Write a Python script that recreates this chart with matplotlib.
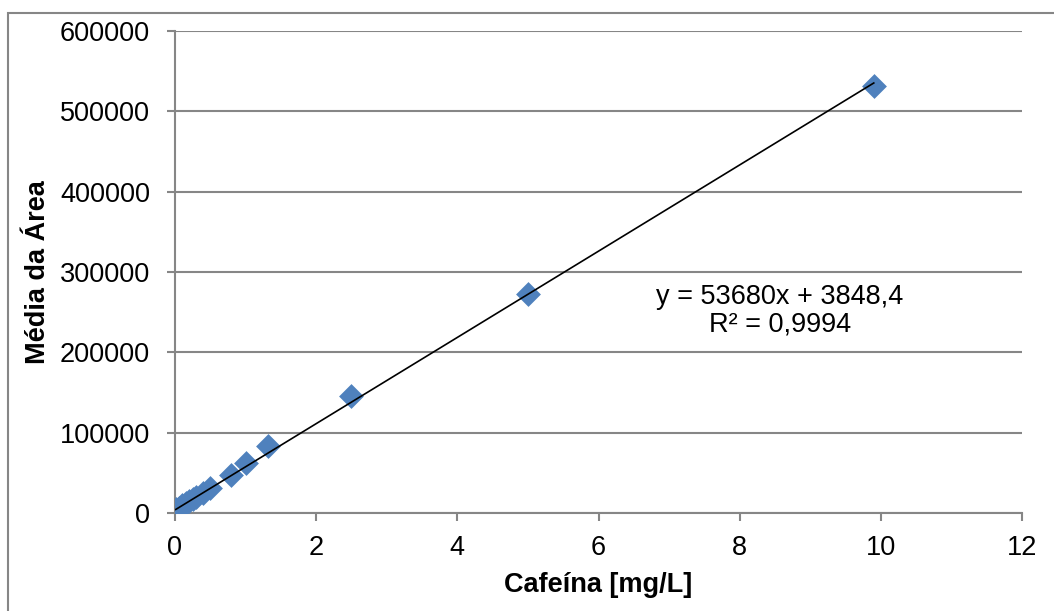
import numpy as np
import matplotlib.pyplot as plt
from matplotlib.patches import Rectangle

plt.rcParams['font.family'] = ['Liberation Sans', 'DejaVu Sans']

# calibration data
conc = [0.01, 0.05, 0.10, 0.15, 0.20, 0.25, 0.30, 0.40, 0.50, 0.80, 1.00, 1.32, 2.50, 5.00, 9.90]
area = [4500, 6500, 9500, 12000, 14500, 17500, 20000, 25500, 30500, 47500, 62000, 83500, 146000, 272000, 532000]

slope = 53680
intercept = 3848.4
eq_text = "y = 53680x + 3848,4\nR² = 0,9994"

xticks = [0, 2, 4, 6, 8, 10, 12]
yticks = [0, 100000, 200000, 300000, 400000, 500000, 600000]

W, H = 1054, 611
fig = plt.figure(figsize=(W / 100, H / 100), dpi=100)
ax = fig.add_axes([175 / W, 1 - 513 / H, (1022 - 175) / W, (513 - 31) / H])

gray = "#868686"
fs = 19.5
ax.scatter(conc, area, marker="D", s=160, color="#4F81BD", zorder=3, linewidths=0)

xl = np.array([min(conc), max(conc)])
ax.plot(xl, slope * xl + intercept, color="black", lw=1.2, zorder=4)

ax.set_xlim(0, 12)
ax.set_ylim(0, 600000)
ax.set_xticks(xticks)
ax.set_yticks(yticks)
ax.set_xticklabels([str(t) for t in xticks])
ax.set_yticklabels([str(t) for t in yticks])
ax.tick_params(labelsize=fs, length=6, width=1.5, color=gray)
ax.tick_params(axis="x", pad=10)
ax.tick_params(axis="y", pad=12)
ax.yaxis.grid(True, color=gray, lw=1.5)
ax.set_axisbelow(True)
for s in ["top", "right"]:
    ax.spines[s].set_visible(False)
for s in ["left", "bottom"]:
    ax.spines[s].set_color(gray)
    ax.spines[s].set_linewidth(1.5)

ax.set_xlabel("Cafeína [mg/L]", fontsize=fs, fontweight="bold", labelpad=8)
ax.set_ylabel("Média da Área", fontsize=fs, fontweight="bold", labelpad=6)

ax.text(8.57, 252000, eq_text, fontsize=fs, ha="center", va="center",
        linespacing=1.1, bbox=dict(facecolor="white", edgecolor="none", pad=2))

# outer chart border
fig.patches.append(Rectangle((8 / W, -0.1), 1.2, 1 - 13 / H + 0.1,
                             transform=fig.transFigure, fill=False,
                             edgecolor=gray, lw=1.5))

fig.savefig("out.png", dpi=100)
